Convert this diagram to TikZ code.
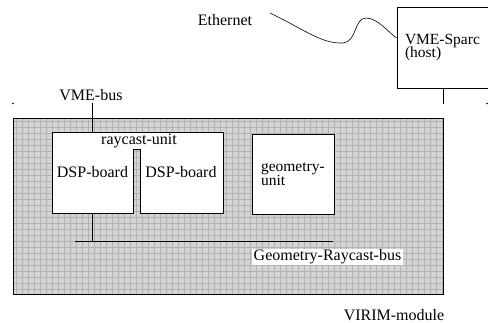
\documentclass[tikz,border=0pt]{standalone}
\usepackage{fontspec}
\setmainfont{Liberation Serif}
\usetikzlibrary{positioning}
\newcommand\tightlines{\lineskiplimit=-8pt\relax}

\begin{document}
\begin{tikzpicture}[x=1pt,y=-1pt,line width=0.8pt,
  lbl/.style={font=\fontsize{16}{13}\selectfont,inner sep=1pt},
  unitbox/.style={draw,fill=white,align=left,font=\fontsize{15.5}{13.5}\selectfont\tightlines}]
\useasboundingbox (0,0) rectangle (488,323);
% VIRIM module
\fill[black!17] (13,118) rectangle (443,294);
\foreach \x in {16,22,...,442}{\draw[black!30,line width=0.4pt] (\x,118) -- (\x,294);}
\foreach \y in {121,127,...,293}{\draw[black!30,line width=0.4pt] (13,\y) -- (443,\y);}
\draw (13,118) rectangle (443,294);
\node[lbl] (virim) at (394,315) {VIRIM-module};
% raycast unit
\filldraw[fill=white] (52,132)--(223,132)--(223,213)--(140,213)--(140,149)--(133,149)--(133,213)--(52,213)--cycle;
\node[lbl] (ray) at (139,141) {raycast-unit};
\node[lbl,minimum width=81pt,minimum height=81pt] (dspA) at (92.5,172.5) {DSP-board};
\node[lbl] (dspB) at (181,172.5) {DSP-board};
\node[unitbox,minimum width=82pt,minimum height=80pt,text width=68pt,inner xsep=7pt] (geo) at (293,174) {\hspace{2pt}geometry-\\\hspace*{2pt}unit};
% buses
\coordinate (busL) at (75,241);
\coordinate (busR) at (333,241);
\draw (busL) -- (busR);
\draw (dspA.south) -- (dspA.south |- busL);
\node[lbl,fill=white,inner xsep=2pt] (grbus) at (327.5,257) {Geometry-Raycast-bus};
\node[lbl] (vmebus) at (91,95) {VME-bus};
\coordinate (vmetap) at (92.5,103);
\draw (vmetap) -- (dspA.north);
\fill (13,103.5) circle (0.9);
\fill (487,103.5) circle (0.9);
% host
\node[unitbox,minimum width=95pt,minimum height=81pt,text width=79pt,inner xsep=8pt] (host) at (444.5,47.5) {VME-Sparc\\(host)};
\coordinate (hosttap) at (443,104);
\draw (hosttap |- host.south) -- (hosttap);
\node[lbl] (eth) at (225,20) {Ethernet};
\coordinate (ethend) at (270,13);
\draw[line width=0.6pt] (ethend) .. controls (305,30) and (322,44) .. (343,43)
  .. controls (357,42) and (354,18) .. (366,18)
  .. controls (378,18) and (390,34) .. ([yshift=9.5pt]host.west);
\end{tikzpicture}
\end{document}
